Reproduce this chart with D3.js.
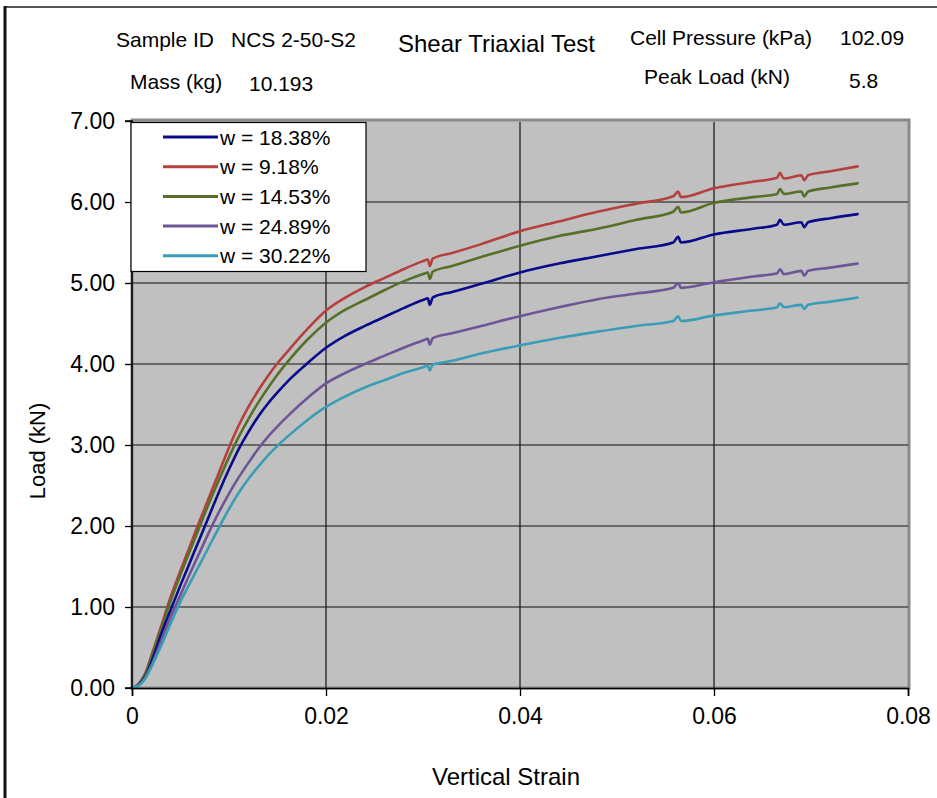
<!DOCTYPE html>
<html>
<head>
<meta charset="utf-8">
<script src="https://cdn.jsdelivr.net/npm/d3@7"></script>
<style>
  html, body { margin: 0; padding: 0; background: #fff; }
  svg { display: block; font-family: "Liberation Sans", Arial, sans-serif; }
</style>
</head>
<body>
<svg id="chart" width="937" height="798"></svg>
<script>
// Vertical strain sampling points shared by every test curve
const strain = [0, 0.0005, 0.001, 0.0015, 0.002, 0.003, 0.004, 0.005, 0.006, 0.007, 0.008, 0.009,
  0.010, 0.011, 0.012, 0.013, 0.014, 0.015, 0.016, 0.018, 0.020, 0.022, 0.024, 0.026, 0.028,
  0.030, 0.0305, 0.0307, 0.031, 0.033, 0.036, 0.040, 0.044, 0.048, 0.052, 0.0558, 0.0563, 0.0566,
  0.060, 0.064, 0.0665, 0.0668, 0.0672, 0.069, 0.0693, 0.0697, 0.072, 0.0748];

// Load (kN) for each moisture content
const load1838 = [0, 0.02, 0.08, 0.17, 0.32, 0.66, 0.97, 1.27, 1.56, 1.85, 2.14, 2.43,
  2.70, 2.95, 3.16, 3.35, 3.51, 3.65, 3.78, 4.00, 4.20, 4.35, 4.47, 4.58, 4.69,
  4.79, 4.81, 4.73, 4.82, 4.89, 4.99, 5.13, 5.24, 5.33, 5.42, 5.50, 5.57, 5.50,
  5.60, 5.67, 5.72, 5.78, 5.72, 5.75, 5.69, 5.75, 5.80, 5.85];
const load918 = [0, 0.03, 0.10, 0.22, 0.40, 0.76, 1.13, 1.45, 1.76, 2.07, 2.37, 2.67,
  2.97, 3.24, 3.47, 3.67, 3.85, 4.01, 4.15, 4.42, 4.66, 4.82, 4.95, 5.06, 5.17,
  5.27, 5.29, 5.21, 5.30, 5.37, 5.48, 5.64, 5.76, 5.88, 5.98, 6.07, 6.13, 6.06,
  6.17, 6.25, 6.30, 6.36, 6.29, 6.33, 6.27, 6.33, 6.38, 6.44];
const load1453 = [0, 0.03, 0.10, 0.21, 0.38, 0.73, 1.08, 1.40, 1.70, 2.00, 2.30, 2.58,
  2.85, 3.10, 3.32, 3.52, 3.70, 3.87, 4.02, 4.29, 4.51, 4.67, 4.79, 4.91, 5.02,
  5.11, 5.13, 5.05, 5.14, 5.21, 5.32, 5.46, 5.58, 5.67, 5.78, 5.88, 5.94, 5.87,
  5.99, 6.06, 6.10, 6.16, 6.10, 6.13, 6.07, 6.13, 6.18, 6.23];
const load2489 = [0, 0.02, 0.07, 0.16, 0.28, 0.58, 0.88, 1.15, 1.42, 1.68, 1.94, 2.18,
  2.40, 2.60, 2.78, 2.95, 3.10, 3.23, 3.35, 3.57, 3.76, 3.89, 4.00, 4.10, 4.20,
  4.29, 4.31, 4.24, 4.32, 4.38, 4.47, 4.59, 4.70, 4.80, 4.87, 4.94, 5.00, 4.94,
  5.01, 5.08, 5.12, 5.17, 5.11, 5.15, 5.09, 5.15, 5.19, 5.24];
const load3022 = [0, 0.02, 0.06, 0.14, 0.26, 0.52, 0.80, 1.07, 1.30, 1.53, 1.76, 1.99,
  2.21, 2.41, 2.58, 2.73, 2.87, 2.99, 3.10, 3.30, 3.47, 3.60, 3.71, 3.80, 3.89,
  3.96, 3.98, 3.92, 3.99, 4.04, 4.13, 4.23, 4.32, 4.40, 4.47, 4.53, 4.59, 4.53,
  4.60, 4.66, 4.70, 4.75, 4.70, 4.73, 4.68, 4.73, 4.77, 4.82];

const seriesNames = ["w = 18.38%", "w = 9.18%", "w = 14.53%", "w = 24.89%", "w = 30.22%"];
const seriesLoads = [load1838, load918, load1453, load2489, load3022];
const seriesColors = ["#0a0a8c", "#b5403d", "#56702a", "#6e5596", "#3a9db5"];

const xTicks = [0, 0.02, 0.04, 0.06, 0.08];
const xTickLabels = ["0", "0.02", "0.04", "0.06", "0.08"];
const yTicks = [0, 1, 2, 3, 4, 5, 6, 7];
const yTickLabels = ["0.00", "1.00", "2.00", "3.00", "4.00", "5.00", "6.00", "7.00"];

const svg = d3.select("#chart");

// Page frame
svg.append("line").attr("x1", 5).attr("x2", 937).attr("y1", 7).attr("y2", 7)
  .attr("stroke", "#555").attr("stroke-width", 2);
svg.append("line").attr("x1", 5).attr("x2", 5).attr("y1", 6).attr("y2", 798)
  .attr("stroke", "#111").attr("stroke-width", 3);

// Header information
const header = svg.append("g").attr("fill", "#000").attr("font-size", 21);
header.append("text").attr("x", 116).attr("y", 47).text("Sample ID");
header.append("text").attr("x", 231).attr("y", 47).text("NCS 2-50-S2");
header.append("text").attr("x", 398).attr("y", 52).attr("font-size", 24).text("Shear Triaxial Test");
header.append("text").attr("x", 630).attr("y", 45).text("Cell Pressure (kPa)");
header.append("text").attr("x", 840).attr("y", 45).text("102.09");
header.append("text").attr("x", 130).attr("y", 89).text("Mass (kg)");
header.append("text").attr("x", 249).attr("y", 91).text("10.193");
header.append("text").attr("x", 644).attr("y", 84).text("Peak Load (kN)");
header.append("text").attr("x", 849).attr("y", 88).text("5.8");

// Scales
const x = d3.scaleLinear().domain([0, 0.08]).range([132, 908]);
const y = d3.scaleLinear().domain([0, 7]).range([688, 121]);

// Plot area with a soft shadowed border on the top and right
svg.append("rect").attr("x", x(0)).attr("y", y(7) - 1)
  .attr("width", x(0.08) - x(0) + 1).attr("height", y(0) - y(7) + 1)
  .attr("fill", "#c0c0c0").attr("stroke", "#8a8a8a").attr("stroke-width", 3);

// Grid
const grid = svg.append("g").attr("stroke", "#111").attr("stroke-width", 1.2);
grid.selectAll("line.h").data(yTicks.filter(d => d > 0 && d < 7)).join("line")
  .attr("x1", x(0)).attr("x2", x(0.08)).attr("y1", d => y(d)).attr("y2", d => y(d));
grid.selectAll("line.v").data(xTicks.filter(d => d > 0 && d < 0.08)).join("line")
  .attr("y1", y(0)).attr("y2", y(7) + 1).attr("x1", d => x(d)).attr("x2", d => x(d));

// Curves
const line = d3.line().x((d, i) => x(strain[i])).y(d => y(d)).curve(d3.curveMonotoneX);
const curves = svg.append("g").attr("fill", "none").attr("stroke-width", 2.6)
  .attr("stroke-linejoin", "round").attr("stroke-linecap", "round");
// the softer soils are drawn last so they sit on top near the origin
const order = [1, 2, 0, 3, 4];
order.forEach(k => {
  curves.append("path").attr("d", line(seriesLoads[k])).attr("stroke", seriesColors[k]);
});

// Axes
const yAxis = d3.axisLeft(y).tickValues(yTicks).tickFormat((d, i) => yTickLabels[i])
  .tickSize(7).tickPadding(10);
const gy = svg.append("g").attr("transform", `translate(${x(0)},0)`).call(yAxis);
const xAxis = d3.axisBottom(x).tickValues(xTicks).tickFormat((d, i) => xTickLabels[i])
  .tickSize(8).tickPadding(12);
const gx = svg.append("g").attr("transform", `translate(0,${y(0)})`).call(xAxis);
[gx, gy].forEach(g => {
  g.select(".domain").attr("stroke", "#000").attr("stroke-width", 1.6);
  g.selectAll(".tick line").attr("stroke", "#000").attr("stroke-width", 1.3);
  g.selectAll(".tick text").attr("fill", "#000").attr("font-size", 23)
    .attr("font-family", "Liberation Sans, Arial, sans-serif");
});
gy.select(".domain").attr("d", `M-7,${y(7)}H0V${y(0)}H-7`);

// Axis titles
svg.append("text").attr("x", 506).attr("y", 785).attr("text-anchor", "middle")
  .attr("font-size", 24).text("Vertical Strain");
svg.append("text").attr("transform", "translate(45,451) rotate(-90)")
  .attr("text-anchor", "middle").attr("font-size", 22).text("Load (kN)");

// Legend
const legend = svg.append("g");
legend.append("rect").attr("x", 131).attr("y", 122.5).attr("width", 235).attr("height", 149)
  .attr("fill", "#fff").attr("stroke", "#000").attr("stroke-width", 1.2);
seriesNames.forEach((name, i) => {
  const cy = 137 + i * 29.7;
  legend.append("line").attr("x1", 163).attr("x2", 218).attr("y1", cy).attr("y2", cy)
    .attr("stroke", seriesColors[i]).attr("stroke-width", 3);
  legend.append("text").attr("x", 220).attr("y", cy + 7.5).attr("font-size", 21)
    .text(name);
});
</script>
</body>
</html>
